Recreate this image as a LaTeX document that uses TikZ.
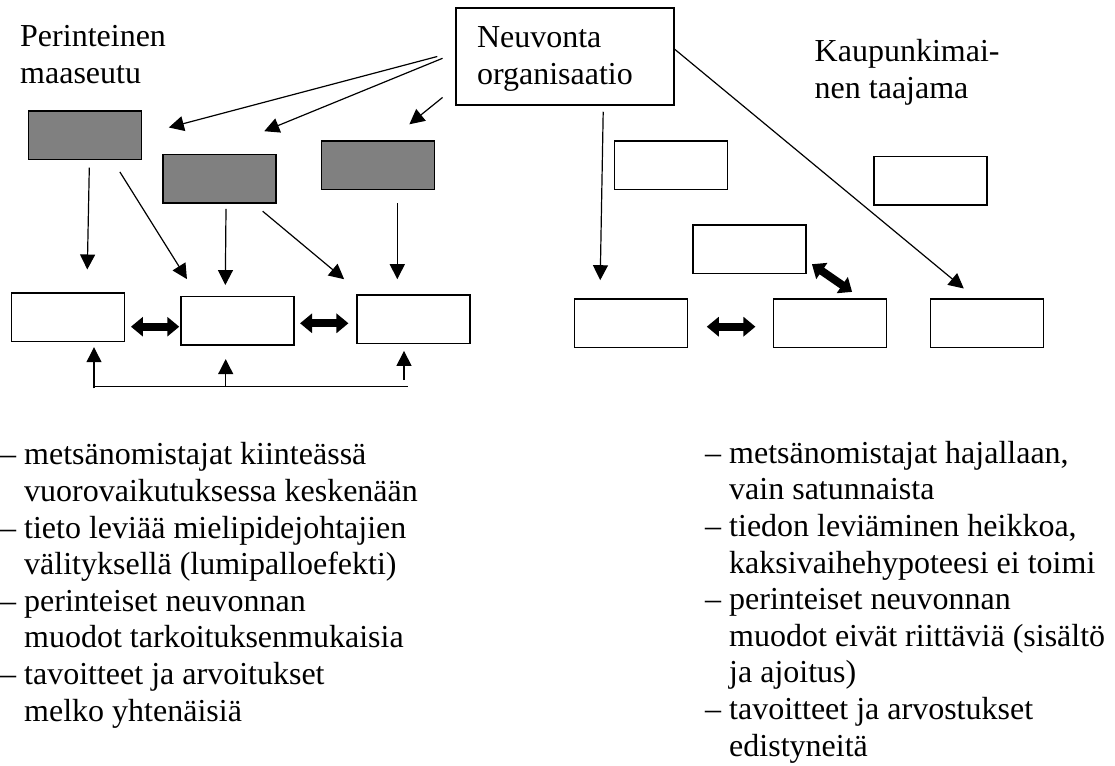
\documentclass[tikz,border=0pt]{standalone}
\usepackage{fontspec}
\setmainfont{Liberation Serif}
\usetikzlibrary{arrows.meta,calc}
\newcommand{\contline}{\hphantom{– }}

\begin{document}
\begin{tikzpicture}[
x=1pt,y=-1pt,
every node/.style={font=\fontsize{32}{36.6}\selectfont},
box/.style={draw,line width=1.5pt,minimum width=113pt,minimum height=48.5pt,inner sep=0pt},
grbox/.style={box,fill=gray},
txt/.style={align=left,inner sep=0pt},
arr/.style={-{Triangle[length=15pt,width=15pt]},line width=1.2pt},
dbl/.style={{Triangle[length=12pt,width=19pt]}-{Triangle[length=12pt,width=19pt]},line width=8pt}
]
\useasboundingbox (0,0) rectangle (1115,765);

% headings (base = last line)
\node[txt,anchor=base west] (rural) at (20,83.3) {Perinteinen\\maaseutu};
\node[txt,anchor=base west] (urban) at (814.5,98.3) {Kaupunkimai-\\nen taajama};
\node[draw,line width=1.5pt,minimum height=97pt,text width=176pt,inner xsep=21pt,align=left] (org) at (565,56.5) {\rule{0pt}{26pt}Neuvonta\\organisaatio};

% left side
\node[grbox] (grayA) at (85,135.2) {};
\node[grbox] (grayB) at (219.7,178.8) {};
\node[grbox] (grayC) at (377.8,165) {};
\node[box] (left1) at (68,317.2) {};
\node[box] (left2) at (237.5,320.8) {};
\node[box] (left3) at (413.7,319.2) {};

% right side
\node[box] (rtop1) at (671.2,165) {};
\node[box] (rtop2) at (930.5,180.8) {};
\node[box] (rmid) at (749.5,249.2) {};
\node[box] (rbot1) at (630.9,323.2) {};
\node[box] (rbot2) at (830,323.2) {};
\node[box] (rbot3) at (987.2,323.2) {};

% advice arrows
\draw[arr] ([xshift=-18pt]org.west) -- ([shift={(26.6,17.3)}]grayA.north east);
\draw[arr] ([shift={(-12.7,1.8)}]org.west) -- ([shift={(-12.7,-22.6)}]grayB.north east);
\draw[arr] ([shift={(-12.7,-8.3)}]org.south west) -- ([shift={(-25.7,-15.7)}]grayC.north east);
\draw[arr] ([shift={(38.2,6)}]org.south) -- ([shift={(-30.7,-18)}]rbot1.north);
\draw[arr] ([yshift=7.2pt]org.east) -- ([shift={(-23.4,-9.7)}]rbot3.north);

% opinion leaders to others
\draw[arr] ([shift={(4.3,7.4)}]grayA.south) -- ([shift={(19.3,-22.7)}]left1.north);
\draw[arr] ([shift={(-22.4,11.7)}]grayA.south east) -- ([shift={(6.7,-16.7)}]left2.north west);
\draw[arr] ([shift={(6.3,5)}]grayB.south) -- ([shift={(-12.2,-10.7)}]left2.north);
\draw[arr] ([shift={(-14.3,7.4)}]grayB.south east) -- ([shift={(-12.3,-15)}]left3.north west);
\draw[arr] ([shift={(19.5,13.4)}]grayC.south) -- ([shift={(-16.4,-15)}]left3.north);

% interaction
\draw[dbl] ([shift={(5.7,9.5)}]left1.east) -- ([shift={(-1,5.9)}]left2.west);
\draw[dbl] ([shift={(5.3,2.5)}]left2.east) -- ([shift={(-8,4.1)}]left3.west);
\draw[dbl] ([shift={(18.6,3.5)}]rbot1.east) -- ([shift={(-17.3,3.5)}]rbot2.west);
\draw[dbl] ([shift={(5.2,-10)}]rmid.south east) -- ([shift={(22.1,-6.3)}]rbot2.north);

% common feedback line
\coordinate (busL) at (95,386.7);
\coordinate (busR) at (408.3,386.7);
\coordinate (busA) at (94,388.3);
\coordinate (busB) at (225.7,386.7);
\coordinate (busC) at (404,380);
\draw[line width=1.2pt] (busL) -- (busR);
\draw[arr,shorten >=5pt] (busA) -- (busA |- left1.south);
\draw[arr,shorten >=13.3pt] (busB) -- (busB |- left2.south);
\draw[arr,shorten >=6.7pt] (busC) -- (busC |- left3.south);

% lists (base = last line)
\node[txt,anchor=base west] (listL) at (0,721) {– metsänomistajat kiinteässä\\\contline vuorovaikutuksessa keskenään\\– tieto leviää mielipidejohtajien\\\contline välityksellä (lumipalloefekti)\\– perinteiset neuvonnan\\\contline muodot tarkoituksenmukaisia\\– tavoitteet ja arvoitukset\\\contline melko yhtenäisiä};
\node[txt,anchor=base west] (listR) at (705,756) {– metsänomistajat hajallaan,\\\contline vain satunnaista\\– tiedon leviäminen heikkoa,\\\contline kaksivaihehypoteesi ei toimi\\– perinteiset neuvonnan\\\contline muodot eivät riittäviä (sisältö\\\contline ja ajoitus)\\– tavoitteet ja arvostukset\\\contline edistyneitä};
\end{tikzpicture}
\end{document}
